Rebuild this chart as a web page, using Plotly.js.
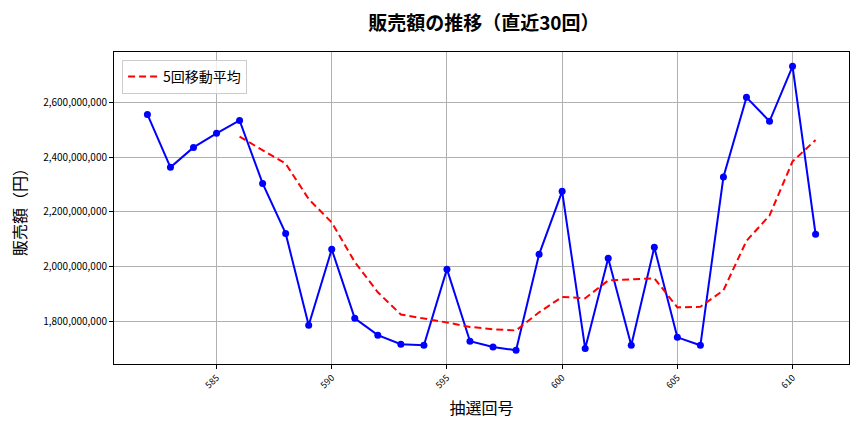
<!DOCTYPE html>
<html>
<head>
<meta charset="utf-8">
<script src="https://cdn.plot.ly/plotly-3.0.1.min.js"></script>
<style>html,body{margin:0;padding:0;background:#fff;}#chart{width:864px;height:432px;}</style>
</head>
<body>
<div id="chart"></div>
<script>
// Draw numbers (抽選回号)
const draws = [582,583,584,585,586,587,588,589,590,591,592,593,594,595,596,597,598,599,600,601,602,603,604,605,606,607,608,609,610,611];
// Sales (販売額, 円)
const sales = [2555000000,2362500000,2435000000,2486000000,2533000000,2304000000,2122000000,1788000000,2064000000,1813000000,
  1752000000,1719000000,1715000000,1992000000,1730000000,1709000000,1697000000,2046000000,2275000000,1703000000,
  2031500000,1715000000,2071500000,1744000000,1715000000,2327000000,2617000000,2530000000,2730000000,2119000000];
// 5回移動平均 (starts at draw 586)
const maDraws = [586,587,588,589,590,591,592,593,594,595,596,597,598,599,600,601,602,603,604,605,606,607,608,609,610,611];
const maValues = [2474000000,2424000000,2376000000,2247000000,2162000000,2018000000,1908000000,1827000000,1813000000,1798000000,
  1782000000,1773000000,1769000000,1835000000,1891000000,1886000000,1951000000,1954000000,1959000000,1853000000,
  1855000000,1915000000,2095000000,2187000000,2384000000,2462000000];
const yTicks = [1800000000,2000000000,2200000000,2400000000,2600000000];
const xTicks = [585,590,595,600,605,610];

const font = "'Noto Sans CJK JP', 'Noto Sans', sans-serif";

const traces = [
  {x: draws, y: sales, type: 'scatter', mode: 'lines+markers',
   line: {color: '#0000ff', width: 2}, marker: {color: '#0000ff', size: 7},
   showlegend: false, name: '販売額'},
  {x: maDraws, y: maValues, type: 'scatter', mode: 'lines',
   line: {color: '#ff0000', width: 2, dash: '7px,4px'}, name: '5回移動平均'}
];

const layout = {
  width: 864, height: 432,
  margin: {l: 114, r: 15, t: 52, b: 68},
  paper_bgcolor: '#fff', plot_bgcolor: '#fff',
  font: {family: font, color: '#000'},
  title: {text: '<b>販売額の推移（直近30回）</b>', font: {family: font, size: 19, color: '#000'},
          x: 0.56, xanchor: 'center', y: 0.945, yanchor: 'middle'},
  xaxis: {
    range: [580.55, 612.45], tickvals: xTicks, ticktext: xTicks.map(String), tickangle: -45,
    tickfont: {size: 9, family: font}, ticks: 'outside', ticklen: 4, tickcolor: '#000',
    showgrid: true, gridcolor: '#b0b0b0', gridwidth: 1, zeroline: false,
    showline: true, linecolor: '#000', linewidth: 1, mirror: true,
    title: {text: '抽選回号', font: {family: font, size: 16}, standoff: 12}
  },
  yaxis: {
    range: [1647000000, 2782000000], tickvals: yTicks, tickformat: ',d',
    tickfont: {size: 10, family: font}, ticks: 'outside', ticklen: 4, tickcolor: '#000',
    showgrid: true, gridcolor: '#b0b0b0', gridwidth: 1, zeroline: false,
    showline: true, linecolor: '#000', linewidth: 1, mirror: true,
    title: {text: '販売額（円）', font: {family: font, size: 16}, standoff: 12}
  },
  legend: {x: 0.011, y: 0.975, xanchor: 'left', yanchor: 'top',
           bgcolor: 'rgba(255,255,255,0.8)', bordercolor: '#cccccc', borderwidth: 1,
           font: {family: font, size: 14}},
  showlegend: true
};

Plotly.newPlot('chart', traces, layout, {displayModeBar: false, staticPlot: true});
</script>
</body>
</html>
